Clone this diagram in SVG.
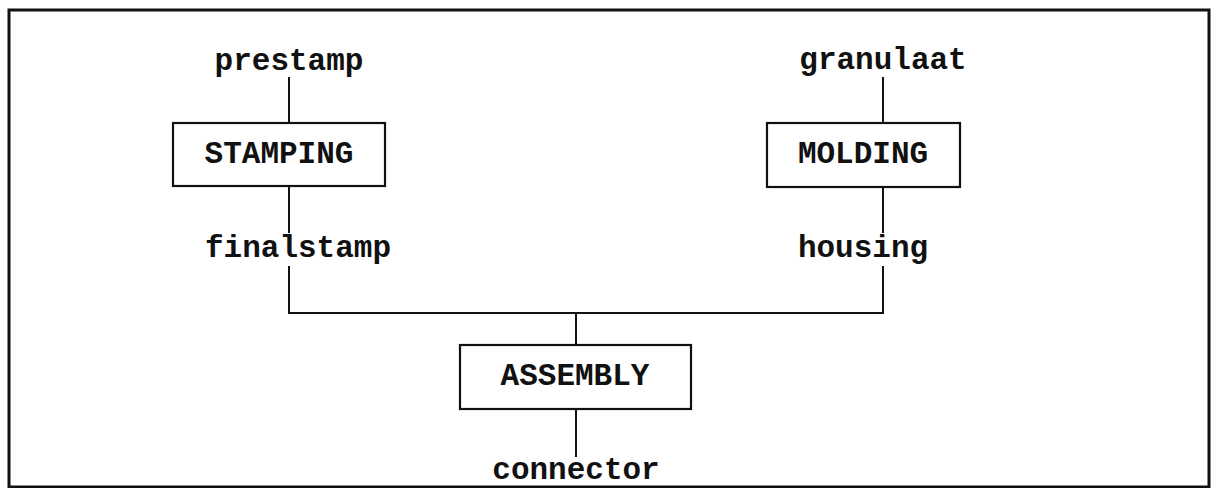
<svg xmlns="http://www.w3.org/2000/svg" width="1211" height="488" viewBox="0 0 1211 488">
  <style>
    .frame { fill: none; stroke: #111; stroke-width: 3; }
    .box { fill: #fff; stroke: #111; stroke-width: 2.2; }
    .wire { fill: none; stroke: #111; stroke-width: 2; }
    .lbl { font-family: "Liberation Mono", "Courier New", monospace; font-size: 31px; font-weight: bold; fill: #111; text-anchor: middle; }
  </style>
  <rect x="0" y="0" width="1211" height="488" fill="#fff"/>
  <rect class="frame" x="9" y="10" width="1200" height="477"/>

  <g id="connectors">
    <line class="wire" x1="289" y1="77" x2="289" y2="123"/>
    <line class="wire" x1="289" y1="187" x2="289" y2="233"/>
    <polyline class="wire" points="289,266 289,313 883,313 883,266"/>
    <line class="wire" x1="883" y1="77" x2="883" y2="123"/>
    <line class="wire" x1="883" y1="187" x2="883" y2="233"/>
    <line class="wire" x1="576" y1="313" x2="576" y2="345"/>
    <line class="wire" x1="576" y1="409" x2="576" y2="457"/>
  </g>

  <g id="prestamp"><text class="lbl" x="289" y="70">prestamp</text></g>
  <g id="granulaat"><text class="lbl" x="883" y="69">granulaat</text></g>

  <g id="stamping">
    <rect class="box" x="173" y="123" width="212" height="63"/>
    <text class="lbl" x="279" y="163">STAMPING</text>
  </g>
  <g id="molding">
    <rect class="box" x="767" y="123" width="193" height="64"/>
    <text class="lbl" x="863" y="163">MOLDING</text>
  </g>

  <g id="finalstamp"><text class="lbl" x="298" y="257">finalstamp</text></g>
  <g id="housing"><text class="lbl" x="863" y="257">housing</text></g>

  <g id="assembly">
    <rect class="box" x="460" y="345" width="231" height="64"/>
    <text class="lbl" x="575" y="385">ASSEMBLY</text>
  </g>
  <g id="connector"><text class="lbl" x="576" y="479">connector</text></g>
</svg>
